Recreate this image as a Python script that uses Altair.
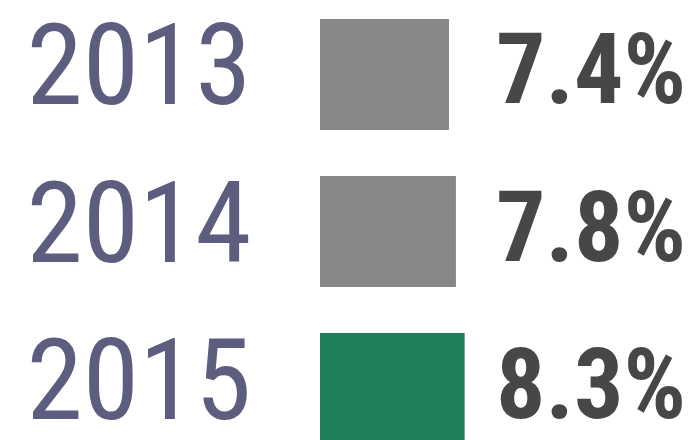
import altair as alt
import pandas as pd

years = ["2013", "2014", "2015"]
values = [7.4, 7.8, 8.3]
labels = ["7.4%", "7.8%", "8.3%"]
colors = ["#878787", "#878787", "#217E5A"]

df = pd.DataFrame({"year": years, "value": values, "label": labels, "color": colors})

FONT = "Roboto Condensed, Liberation Sans Narrow, DejaVu Sans Condensed, sans-serif"

yenc = alt.Y(
    "year:N",
    sort=years,
    scale=alt.Scale(paddingInner=0.293, paddingOuter=0.07),
    axis=alt.Axis(
        title=None,
        domain=False,
        ticks=False,
        grid=False,
        labelFont=FONT,
        labelFontSize=114,
        labelColor="#5D5D80",
        labelPadding=69,
        labelOffset=-4,
        labelBaseline="middle",
        labelAlign="right",
        labelLimit=400,
    ),
)

bars = alt.Chart(df).mark_bar().encode(
    x=alt.X("value:Q", scale=alt.Scale(domain=[0, 21]), axis=None),
    y=yenc,
    color=alt.Color("color:N", scale=None),
)

text = alt.Chart(df).mark_text(
    align="left",
    baseline="middle",
    font=FONT,
    fontWeight="bold",
    fontSize=98,
    color="#474747",
).encode(
    x=alt.value(176),
    y=yenc,
    text="label:N",
)

chart = (
    alt.layer(bars, text)
    .properties(
        width=366,
        height=447,
        background="white",
        padding={"left": 312, "top": 0, "right": 0, "bottom": 0},
        autosize=alt.AutoSizeParams(type="none"),
    )
    .configure_view(strokeWidth=0)
)

chart.save("out.html", embed_options={"renderer": "svg", "actions": False})
